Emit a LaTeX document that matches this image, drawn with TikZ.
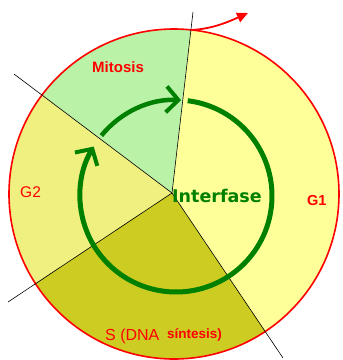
\documentclass[tikz,border=0pt]{standalone}
\usepackage{fontspec}
\setmainfont{Liberation Sans}
\newfontfamily\interfont{DejaVu Sans}
\usetikzlibrary{arrows.meta}
\definecolor{mitc}{RGB}{186,242,168}
\definecolor{gonec}{RGB}{255,255,153}
\definecolor{gtwoc}{RGB}{240,240,128}
\definecolor{sphc}{RGB}{204,204,34}
\definecolor{cycgreen}{RGB}{0,128,0}
\tikzset{
  ray/.style={black, line width=0.6pt},
  lbl/.style={text=red, inner sep=0pt, anchor=base west},
  cycle arc/.style={cycgreen, line width=5pt, -{Straight Barb[length=12pt,width=26pt,line width=4pt]}},
}
\begin{document}
\begin{tikzpicture}[x=1pt,y=-1pt]
\useasboundingbox (0,0) rectangle (343,360);
\coordinate (O) at (172,193);
\coordinate (C) at (174,194);
\coordinate (A1) at (193,12);
\coordinate (A2) at (14,74);
\coordinate (A3) at (8,302);
\coordinate (A4) at (283,358);
\coordinate (F1) at (235,-350);
\coordinate (F2) at (-302,-164);
\coordinate (F3) at (-320,520);
\coordinate (F4) at (505,685);
\begin{scope}
  \clip (C) circle[radius=165];
  \fill[mitc] (O) -- (F1) -- (-302,-350) -- (F2) -- cycle;
  \fill[gtwoc] (O) -- (F2) -- (F3) -- cycle;
  \fill[sphc] (O) -- (F3) -- (F4) -- cycle;
  \fill[gonec] (O) -- (F4) -- (700,685) -- (700,-350) -- (F1) -- cycle;
\end{scope}
\draw[red, line width=1.6pt] (C) circle[radius=165];
\draw[ray] (O) -- (A1);
\draw[ray] (O) -- (A2);
\draw[ray] (O) -- (A3);
\draw[ray] (O) -- (A4);
% red arrow at top
\coordinate (T0) at (191,30);
\coordinate (T1) at (248,13);
\draw[red, line width=1.8pt, -{Triangle[length=11pt,width=10pt]}] (T0) .. controls (212,29) and (228,22) .. (T1);
% green cycle
\coordinate (G) at (176,196);
\draw[cycle arc] (G) ++(-83:96) arc[start angle=-83, end angle=211, radius=96];
\draw[cycle arc, line width=4.5pt] (G) ++(-141:96) arc[start angle=-141, end angle=-87, radius=96];
% labels
\node[lbl, font=\bfseries\fontsize{15}{17}\selectfont] (mit) at (92,72) {Mitosis};
\node[lbl, font=\fontsize{15.5}{17}\selectfont] (g2) at (20,197) {G2};
\node[lbl, font=\bfseries\fontsize{14.5}{16}\selectfont] (g1) at (307,205) {G1};
\node[lbl, text=cycgreen, font=\interfont\bfseries\fontsize{17.5}{19}\selectfont] (inter) at (172,202) {Interfase};
\node[lbl, font=\fontsize{16}{18}\selectfont] (sdna) at (105,340) {S (DNA};
\node[lbl, font=\bfseries\fontsize{13.5}{15}\selectfont] (sint) at (167,338) {síntesis)};
\end{tikzpicture}
\end{document}
